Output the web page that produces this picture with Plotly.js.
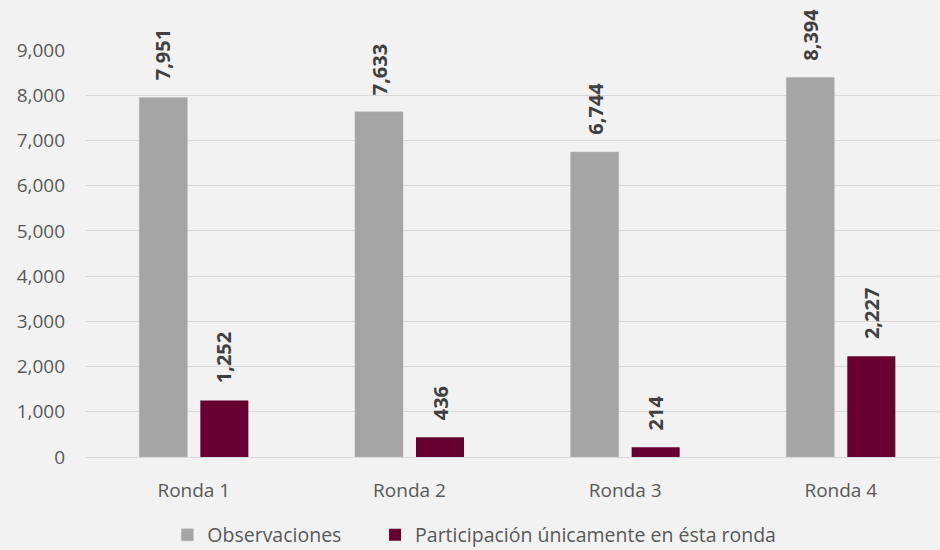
<!DOCTYPE html>
<html>
<head>
<meta charset="utf-8">
<script src="https://cdn.plot.ly/plotly-3.0.1.min.js"></script>
<style>
  html, body { margin: 0; padding: 0; background: #f2f2f2; overflow: hidden; }
  #chart { width: 940px; height: 550px; }
</style>
</head>
<body>
<div id="chart"></div>
<script>
const categories = ["Ronda 1", "Ronda 2", "Ronda 3", "Ronda 4"];
const observaciones = [7951, 7633, 6744, 8394];
const participacion = [1252, 436, 214, 2227];
const seriesNames = ["Observaciones", "Participación únicamente en ésta ronda"];
const yTickVals = [0, 1000, 2000, 3000, 4000, 5000, 6000, 7000, 8000, 9000];

const colors = ["#a5a5a5", "#670030"];
const fontFamily = '"Open Sans", "Noto Sans", sans-serif';

const traces = [
  { type: "bar", name: seriesNames[0], x: categories, y: observaciones, legend: "legend",
    marker: { color: colors[0], line: { color: "#b5b5b5", width: 0.5 } }, hoverinfo: "none" },
  { type: "bar", name: seriesNames[1], x: categories, y: participacion, legend: "legend2",
    marker: { color: colors[1] }, hoverinfo: "none" }
];

const fmt = v => v.toLocaleString("en-US");
const annotations = [];
[observaciones, participacion].forEach((series, si) => {
  series.forEach((v, i) => {
    annotations.push({
      x: categories[i], y: v, xref: "x", yref: "y",
      text: "<b>" + fmt(v) + "</b>",
      textangle: -90, showarrow: false,
      xanchor: "center", yanchor: "bottom",
      xshift: si === 0 ? -30.5 : 30.5, yshift: 15,
      font: { family: fontFamily, size: 20, color: "#404040" }
    });
  });
});

const legendBase = {
  orientation: "h", xref: "container", yref: "container",
  xanchor: "left", y: 0.027, yanchor: "middle",
  font: { size: 19.5, color: "#595959" }, itemwidth: 30,
  bgcolor: "rgba(0,0,0,0)"
};

const layout = {
  width: 940, height: 550,
  paper_bgcolor: "#f2f2f2", plot_bgcolor: "#f2f2f2",
  margin: { l: 86, r: 0, t: 50, b: 93 },
  barmode: "group", bargap: 0.434, bargroupgap: 0.213,
  font: { family: fontFamily, size: 19, color: "#595959" },
  xaxis: { type: "category", range: [-0.5, 3.46], showgrid: false, zeroline: false,
    showline: false, ticks: "", ticklabelstandoff: 20, automargin: false,
    tickfont: { size: 19, color: "#595959" }, fixedrange: true },
  yaxis: { range: [0, 9000], tickvals: yTickVals, ticktext: yTickVals.map(fmt),
    showgrid: true, gridcolor: "#d9d9d9", gridwidth: 1, zeroline: true, zerolinecolor: "#d9d9d9",
    zerolinewidth: 1, ticks: "", ticklabelstandoff: 20, automargin: false,
    tickfont: { size: 19, color: "#595959" }, fixedrange: true },
  showlegend: true,
  legend: Object.assign({}, legendBase, { x: 0.178 }),
  legend2: Object.assign({}, legendBase, { x: 0.399 }),
  annotations: annotations
};

Plotly.newPlot("chart", traces, layout, { displayModeBar: false, staticPlot: true });
</script>
</body>
</html>
